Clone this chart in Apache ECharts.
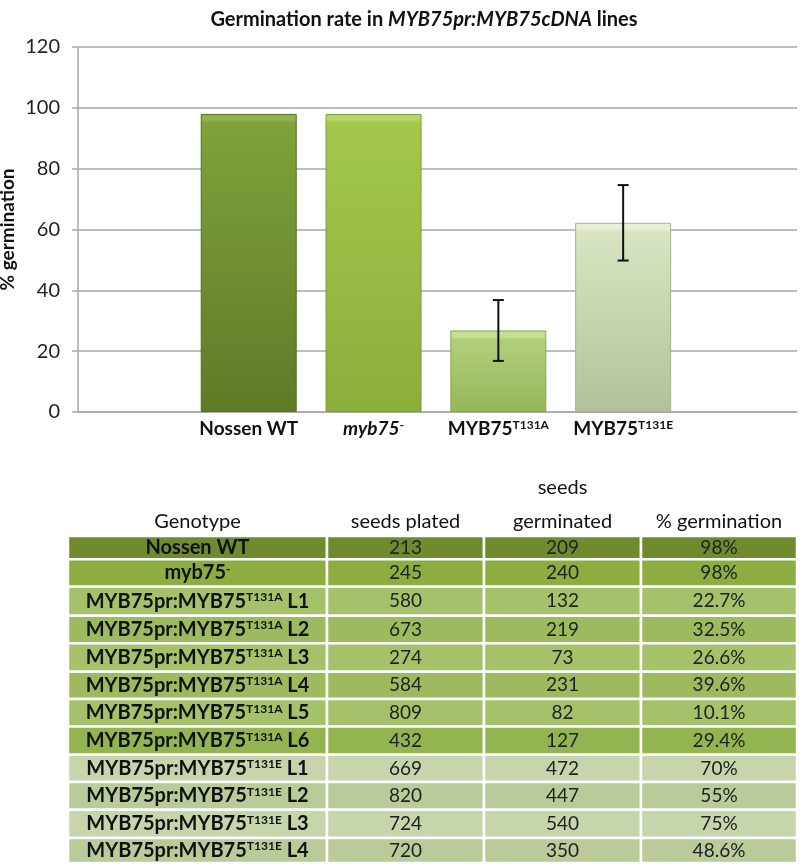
<!DOCTYPE html>
<html><head><meta charset="utf-8">
<script src="https://cdn.jsdelivr.net/npm/echarts@6/dist/echarts.min.js"></script>
<style>html,body{margin:0;padding:0;background:#fff}#c{width:800px;height:867px}</style>
</head><body><div id="c"></div>
<script>
// ---------- DATA ----------
const barCatBase = ['Nossen WT', 'myb75', 'MYB75', 'MYB75'];
const barCatSup = ['', '-', 'T131A', 'T131E'];
const barValues = [98, 98, 26.8, 62.2];
const barErrors = [null, null, 10, 12.4];
const yMin = 0, yMax = 120, yStep = 20;

const tableHeaders = ['Genotype', 'seeds plated', 'seeds\ngerminated', '% germination'];
const genotypeBase = ['Nossen WT', 'myb75', 'MYB75pr:MYB75', 'MYB75pr:MYB75', 'MYB75pr:MYB75', 'MYB75pr:MYB75', 'MYB75pr:MYB75', 'MYB75pr:MYB75', 'MYB75pr:MYB75', 'MYB75pr:MYB75', 'MYB75pr:MYB75', 'MYB75pr:MYB75'];
const genotypeSup = ['', '-', 'T131A', 'T131A', 'T131A', 'T131A', 'T131A', 'T131A', 'T131E', 'T131E', 'T131E', 'T131E'];
const genotypeLine = ['', '', 'L1', 'L2', 'L3', 'L4', 'L5', 'L6', 'L1', 'L2', 'L3', 'L4'];
const seedsPlated = [213, 245, 580, 673, 274, 584, 809, 432, 669, 820, 724, 720];
const seedsGerminated = [209, 240, 132, 219, 73, 231, 82, 127, 472, 447, 540, 350];
const pctGermination = ['98%', '98%', '22.7%', '32.5%', '26.6%', '39.6%', '10.1%', '29.4%', '70%', '55%', '75%', '48.6%'];

// ---------- STYLE / LAYOUT ----------
const FONT = 'Lato, "Open Sans", sans-serif';
const GRID_GRAY = '#a8a8a8';
const BAR_STYLE = [
  {bevel: '#8fb24a', top: '#7fa23a', bottom: '#5e7b27', border: '#55701f'},
  {bevel: '#b6d66a', top: '#a3c84d', bottom: '#8bae3b', border: '#7c9c33'},
  {bevel: '#c6df94', top: '#b2d07a', bottom: '#94b75a', border: '#86a650'},
  {bevel: '#e6efd6', top: '#d8e5c2', bottom: '#b2c19b', border: '#a3b18c'}
];
const ROW_COLORS = ['#6e8b2e', '#8cae40', '#a5c26b', '#9dbb5e', '#a5c26b', '#9dbb5e', '#a5c26b', '#93b551',
                    '#c6d5ac', '#b9cb99', '#c6d5ac', '#b9cb99'];
const COL_WEIGHTS = [259, 157, 157, 156];
const ROW_WEIGHTS = [23.3, 27.6, 29, 27.6, 28.4, 27.3, 27.7, 28.3, 27.3, 27.7, 28.3, 25];
const BAR_PX_PER_UNIT = 365 / (yMax - yMin);

function edges(w) { const e = [0]; w.forEach(v => e.push(e[e.length - 1] + v)); return e; }
const colEdges = edges(COL_WEIGHTS);
const rowEdges = edges(ROW_WEIGHTS);

const chart = echarts.init(document.getElementById('c'), null, {renderer: 'canvas'});

const barData = barValues.map((v, i) => {
  const s = BAR_STYLE[i];
  const bevelFrac = Math.min(0.3, 6 / (v * BAR_PX_PER_UNIT));
  return {
    value: [i + 1, v],
    itemStyle: {
      color: {type: 'linear', x: 0, y: 0, x2: 0, y2: 1, colorStops: [
        {offset: 0, color: s.bevel}, {offset: bevelFrac, color: s.bevel},
        {offset: bevelFrac * 1.5, color: s.top}, {offset: 1, color: s.bottom}]},
      borderColor: s.border, borderWidth: 1
    }
  };
});

const errData = [];
barValues.forEach((v, i) => { if (barErrors[i] != null) errData.push([i + 1, v, barErrors[i]]); });

const tableData = [];
for (let r = 0; r < seedsPlated.length; r++) for (let c = 0; c < 4; c++) tableData.push([c, r]);
const headerData = tableHeaders.map((h, c) => [c, 0]);

const richCell = {
  b: {fontFamily: FONT, fontSize: 20, fontWeight: 'bold', fill: '#111', verticalAlign: 'middle'},
  s: {fontFamily: FONT, fontSize: 12, fontWeight: 'bold', fill: '#111', verticalAlign: 'top', lineHeight: 12}
};

function cellText(c, r) {
  if (c === 0) {
    let t = '{b|' + genotypeBase[r] + '}';
    if (genotypeSup[r]) t += '{s|' + genotypeSup[r] + '}';
    if (genotypeLine[r]) t += '{b| ' + genotypeLine[r] + '}';
    return t;
  }
  if (c === 1) return String(seedsPlated[r]);
  if (c === 2) return String(seedsGerminated[r]);
  return pctGermination[r];
}

const option = {
  backgroundColor: '#fff',
  animation: false,
  title: {
    text: '{b|Germination rate in }{i|MYB75pr:MYB75cDNA}{b| lines}',
    left: 419, top: 5, textAlign: 'center',
    textStyle: {
      rich: {
        b: {fontFamily: FONT, fontSize: 20, fontWeight: 'bold', color: '#111'},
        i: {fontFamily: FONT, fontSize: 20, fontWeight: 'bold', fontStyle: 'italic', color: '#111'}
      }
    }
  },
  grid: [
    {left: 78, top: 47, width: 719, height: 365, containLabel: false, outerBoundsMode: 'none'},
    {left: 68, top: 536, width: 729, height: 327, containLabel: false, outerBoundsMode: 'none'}
  ],
  xAxis: [
    {
      type: 'value', gridIndex: 0, min: -0.368, max: 5.393,
      splitLine: {show: false},
      axisLine: {show: true, onZero: false, lineStyle: {color: GRID_GRAY, width: 1.5}},
      axisTick: {show: false},
      axisLabel: {
        customValues: [1, 2, 3, 4], margin: 7,
        formatter: function (val) {
          const i = Math.round(val) - 1;
          if (i < 0 || i > 3) return '';
          const base = i === 1 ? '{bi|' + barCatBase[i] + '}' : '{b|' + barCatBase[i] + '}';
          return base + (barCatSup[i] ? '{s|' + barCatSup[i] + '}' : '');
        },
        rich: {
          b: {fontFamily: FONT, fontSize: 19, fontWeight: 'bold', color: '#111', verticalAlign: 'middle'},
          bi: {fontFamily: FONT, fontSize: 19, fontWeight: 'bold', fontStyle: 'italic', color: '#111', verticalAlign: 'middle'},
          s: {fontFamily: FONT, fontSize: 12, fontWeight: 'bold', color: '#111', verticalAlign: 'top', lineHeight: 12}
        }
      }
    },
    {type: 'value', gridIndex: 1, min: 0, max: colEdges[colEdges.length - 1], show: false}
  ],
  yAxis: [
    {
      type: 'value', gridIndex: 0, min: yMin, max: yMax, interval: yStep,
      name: '% germination', nameLocation: 'middle', nameGap: 61, nameMoveOverlap: false,
      nameTextStyle: {fontFamily: FONT, fontSize: 19, fontWeight: 'bold', color: '#111'},
      axisLine: {show: true, onZero: false, lineStyle: {color: GRID_GRAY, width: 1.5}},
      axisTick: {show: true, length: 6, lineStyle: {color: GRID_GRAY, width: 1.5}},
      axisLabel: {fontFamily: FONT, fontSize: 20, color: '#222', margin: 18},
      splitLine: {show: true, lineStyle: {color: GRID_GRAY, width: 1.5}}
    },
    {type: 'value', gridIndex: 1, min: 0, max: rowEdges[rowEdges.length - 1], inverse: true, show: false}
  ],
  series: [
    {
      type: 'bar', xAxisIndex: 0, yAxisIndex: 0, barWidth: 96, data: barData
    },
    {
      type: 'custom', xAxisIndex: 0, yAxisIndex: 0, data: errData, z: 5,
      renderItem: function (params, api) {
        const x = api.value(0), v = api.value(1), e = api.value(2);
        const t = api.coord([x, v + e]), b = api.coord([x, v - e]);
        const hw = 5.5, st = {stroke: '#111', lineWidth: 2};
        return {type: 'group', children: [
          {type: 'line', shape: {x1: t[0], y1: t[1], x2: b[0], y2: b[1]}, style: st},
          {type: 'line', shape: {x1: t[0] - hw, y1: t[1], x2: t[0] + hw, y2: t[1]}, style: st},
          {type: 'line', shape: {x1: b[0] - hw, y1: b[1], x2: b[0] + hw, y2: b[1]}, style: st}
        ]};
      }
    },
    {
      type: 'custom', xAxisIndex: 1, yAxisIndex: 1, data: tableData, clip: false,
      renderItem: function (params, api) {
        const c = api.value(0), r = api.value(1);
        const p0 = api.coord([colEdges[c], rowEdges[r]]);
        const p1 = api.coord([colEdges[c + 1], rowEdges[r + 1]]);
        const cx = (p0[0] + p1[0]) / 2, cy = (p0[1] + p1[1]) / 2;
        const txt = c === 0
          ? {type: 'text', style: {text: cellText(c, r), rich: richCell, x: cx, y: cy, align: 'center', verticalAlign: 'middle'}}
          : {type: 'text', style: {text: cellText(c, r), x: cx, y: cy, align: 'center', verticalAlign: 'middle',
              fontFamily: FONT, fontSize: 19, fill: '#222'}};
        return {type: 'group', children: [
          {type: 'rect', shape: {x: p0[0], y: p0[1], width: p1[0] - p0[0], height: p1[1] - p0[1]},
           style: {fill: ROW_COLORS[r], stroke: '#ffffff', lineWidth: 2.5}},
          txt
        ]};
      }
    },
    {
      type: 'custom', xAxisIndex: 1, yAxisIndex: 1, data: headerData, clip: false,
      renderItem: function (params, api) {
        const c = api.value(0);
        const p0 = api.coord([colEdges[c], 0]);
        const p1 = api.coord([colEdges[c + 1], 0]);
        return {type: 'text', style: {text: tableHeaders[c], x: (p0[0] + p1[0]) / 2, y: p0[1] + 3,
          align: 'center', verticalAlign: 'bottom', lineHeight: 34,
          fontFamily: FONT, fontSize: 20, fill: '#111'}};
      }
    }
  ]
};
chart.setOption(option);
</script>
</body></html>
